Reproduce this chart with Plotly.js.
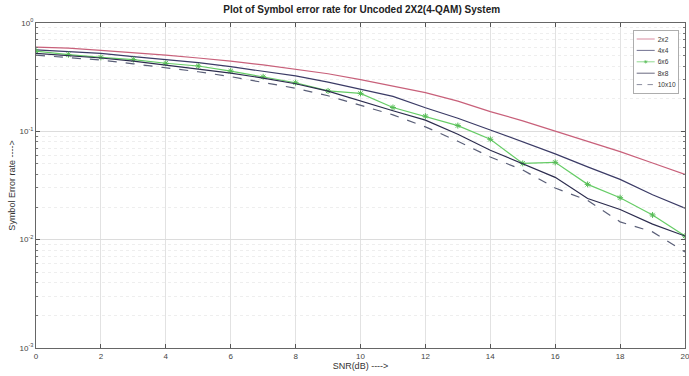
<!DOCTYPE html>
<html>
<head>
<meta charset="utf-8">
<script src="https://cdn.plot.ly/plotly-3.0.1.min.js"></script>
<style>html,body{margin:0;padding:0;background:#fff;}#chart{width:689px;height:376px;}</style>
</head>
<body>
<div id="chart"></div>
<script>
var snr = [0,1,2,3,4,5,6,7,8,9,10,11,12,13,14,15,16,17,18,19,20];
var ser2x2 = [0.600,0.585,0.560,0.535,0.505,0.475,0.445,0.410,0.375,0.340,0.300,0.262,0.228,0.190,0.152,0.125,0.100,0.081,0.065,0.051,0.040];
var ser4x4 = [0.565,0.548,0.525,0.490,0.460,0.430,0.395,0.360,0.325,0.285,0.245,0.210,0.165,0.132,0.103,0.080,0.062,0.047,0.036,0.026,0.0195];
var ser6x6 = [0.550,0.510,0.482,0.460,0.425,0.401,0.360,0.319,0.281,0.236,0.224,0.166,0.138,0.113,0.0844,0.0506,0.0517,0.0324,0.0244,0.0169,0.0108];
var ser8x8 = [0.525,0.500,0.475,0.445,0.410,0.380,0.345,0.310,0.275,0.235,0.190,0.155,0.127,0.094,0.067,0.050,0.0376,0.024,0.019,0.0139,0.0108];
var ser10x10 = [0.505,0.480,0.455,0.420,0.387,0.355,0.320,0.285,0.250,0.213,0.175,0.142,0.110,0.081,0.058,0.044,0.030,0.023,0.0146,0.0118,0.0077];
var seriesNames = ['2x2','4x4','6x6','8x8','10x10'];
var xTicks = [0,2,4,6,8,10,12,14,16,18,20];
var yTickVals = [1,0.1,0.01,0.001];
var yTickText = ['10<sup>0</sup>','10<sup>-1</sup>','10<sup>-2</sup>','10<sup>-3</sup>'];

var traces = [
  {x:snr, y:ser2x2, name:seriesNames[0], mode:'lines', line:{color:'#c8607a', width:1.2}},
  {x:snr, y:ser4x4, name:seriesNames[1], mode:'lines', line:{color:'#3b3b66', width:1.2}},
  {x:snr, y:ser6x6, name:seriesNames[2], mode:'lines+markers', line:{color:'#66cc66', width:1.2},
   marker:{symbol:'asterisk-open', size:5, color:'#55bb55', line:{color:'#55bb55', width:1}}},
  {x:snr, y:ser8x8, name:seriesNames[3], mode:'lines', line:{color:'#2c2c4e', width:1.2}},
  {x:snr, y:ser10x10, name:seriesNames[4], mode:'lines', line:{color:'#5a5f78', width:1.2, dash:'dash'}}
];

var layout = {
  width:689, height:376,
  margin:{l:36, r:4, t:23, b:28},
  paper_bgcolor:'#fff', plot_bgcolor:'#fff',
  font:{family:'Liberation Sans, Arial, sans-serif', size:8, color:'#444'},
  title:{text:'<b>Plot of Symbol error rate for Uncoded 2X2(4-QAM) System</b>', x:0.525, xanchor:'center', y:0.985, yanchor:'top',
         font:{size:10, color:'#222', family:'Liberation Sans, Arial, sans-serif'}},
  xaxis:{range:[0,20], tickvals:xTicks, ticks:'inside', ticklen:4, tickcolor:'#555',
         showline:true, linecolor:'#666', linewidth:1, mirror:'ticks',
         showgrid:true, gridcolor:'#e2e2e2', zeroline:false, automargin:false, ticklabeloverflow:'allow',
         title:{text:'SNR(dB) ---->', standoff:2, font:{size:9, color:'#333'}}},
  yaxis:{type:'log', range:[-3,0], tickvals:yTickVals, ticktext:yTickText, ticks:'inside', ticklen:4, tickcolor:'#555',
         showline:true, linecolor:'#666', linewidth:1, mirror:'ticks',
         showgrid:true, gridcolor:'#dcdcdc', zeroline:false,
         minor:{ticks:'inside', ticklen:2, tickcolor:'#777', showgrid:true, gridcolor:'#eeeeee', griddash:'dot', dtick:'D1'},
         title:{text:'Symbol Error rate ---->', standoff:2, font:{size:9, color:'#333'}}},
  legend:{x:0.991, xanchor:'right', y:0.978, yanchor:'top', bgcolor:'#fff', bordercolor:'#777', borderwidth:1,
          font:{size:11, color:'#333'}, itemwidth:30, tracegroupgap:0},
  showlegend:true
};

Plotly.newPlot('chart', traces, layout, {displayModeBar:false, staticPlot:true}).then(function(gd){
  // compact the legend to MATLAB-like size, anchored at its top-right corner
  var leg = gd.querySelector('g.legend');
  if (!leg) return;
  var bb = leg.querySelector('rect.bg').getBBox();
  var s = 0.6;
  var right = 679, top = 30;
  var tx = right - (bb.x + bb.width) * s;
  var ty = top - bb.y * s;
  leg.setAttribute('transform', 'translate(' + tx + ',' + ty + ') scale(' + s + ')');
});
</script>
</body>
</html>
